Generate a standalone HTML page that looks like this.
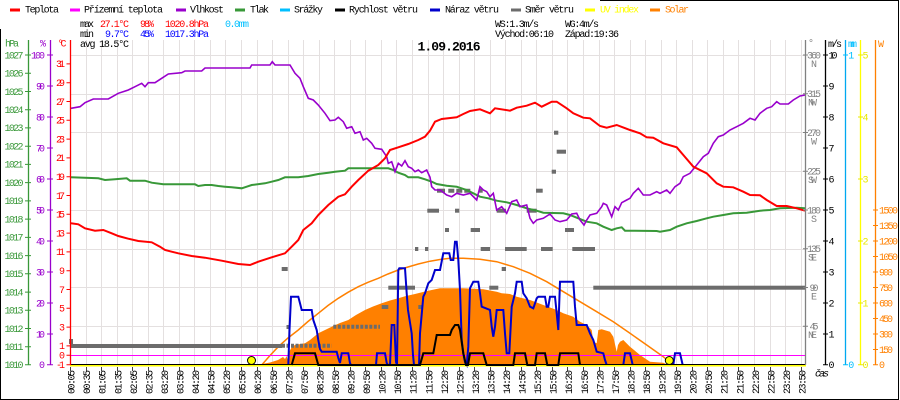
<!DOCTYPE html>
<html><head><meta charset="utf-8"><style>
html,body{margin:0;padding:0;background:#fff;}
svg{display:block;}
text{font-family:"Liberation Mono",monospace;font-size:10px;}
.b{font-weight:bold;font-size:13px;}
</style></head><body>
<svg width="900" height="400" viewBox="0 0 900 400" xmlns="http://www.w3.org/2000/svg">
<rect x="0" y="0" width="900" height="400" fill="#fff"/>
<!-- outer border -->
<path d="M0.5 29V399.5H898.5V0.5H600" fill="none" stroke="#000" stroke-width="1"/>

<!-- legend -->
<g>
<rect x="10" y="8.5" width="10" height="3" fill="#ff0000"/><text x="25" y="12.5" textLength="34">Teplota</text>
<rect x="70" y="8.5" width="10" height="3" fill="#ff00ff"/><text x="84" y="12.5" textLength="79">Přízemní teplota</text>
<rect x="176" y="8.5" width="10" height="3" fill="#9900cc"/><text x="190" y="12.5" textLength="34">Vlhkost</text>
<rect x="235" y="8.5" width="10" height="3" fill="#389838"/><text x="250" y="12.5" textLength="19">Tlak</text>
<rect x="280" y="8.5" width="10" height="3" fill="#00bfff"/><text x="294" y="12.5" textLength="29">Srážky</text>
<rect x="335" y="8.5" width="10" height="3" fill="#000"/><text x="349" y="12.5" textLength="69">Rychlost větru</text>
<rect x="430" y="8.5" width="10" height="3" fill="#0000cc"/><text x="445" y="12.5" textLength="54">Náraz větru</text>
<rect x="511" y="8.5" width="10" height="3" fill="#6c6c6c"/><text x="525" y="12.5" textLength="49">Směr větru</text>
<rect x="585" y="8.5" width="10" height="3" fill="#ffff00"/><text x="600" y="12.5" textLength="39" fill="#ffff00">UV index</text>
<rect x="650" y="8.5" width="10" height="3" fill="#ff8000"/><text x="665" y="12.5" textLength="24" fill="#ff8000">Solar</text>
</g>

<!-- stats -->
<text x="80" y="27" textLength="14">max</text>
<text x="100" y="27" textLength="29" fill="#ff0000">27.1°C</text>
<text x="140" y="27" textLength="14" fill="#ff0000">98%</text>
<text x="165" y="27" textLength="44" fill="#ff0000">1020.8hPa</text>
<text x="225" y="27" textLength="24" fill="#00bfff">0.0mm</text>
<text x="80" y="37" textLength="14">min</text>
<text x="105" y="37" textLength="24" fill="#0000ff">9.7°C</text>
<text x="140" y="37" textLength="14" fill="#0000ff">45%</text>
<text x="165" y="37" textLength="44" fill="#0000ff">1017.3hPa</text>
<text x="495" y="27" textLength="44">WS:1.3m/s</text>
<text x="565" y="27" textLength="34">WG:4m/s</text>
<text x="495" y="37" textLength="59">Východ:06:10</text>
<text x="565" y="37" textLength="54">Západ:19:36</text>

<!-- grid -->
<g stroke="#e4e0e0" stroke-width="1">
<path d="M71 55.5H805 M71 94.5H805 M71 132.5H805 M71 171.5H805 M71 210.5H805 M71 249.5H805 M71 287.5H805 M71 326.5H805"/>
<path d="M86.5 40V364 M101.5 40V364 M117.5 40V364 M132.5 40V364 M148.5 40V364 M163.5 40V364 M179.5 40V364 M194.5 40V364 M210.5 40V364 M225.5 40V364 M241.5 40V364 M257.5 40V364 M272.5 40V364 M288.5 40V364 M303.5 40V364 M319.5 40V364 M334.5 40V364 M350.5 40V364 M365.5 40V364 M381.5 40V364 M396.5 40V364 M412.5 40V364 M428.5 40V364 M443.5 40V364 M459.5 40V364 M474.5 40V364 M490.5 40V364 M505.5 40V364 M521.5 40V364 M536.5 40V364 M552.5 40V364 M567.5 40V364 M583.5 40V364 M599.5 40V364 M614.5 40V364 M630.5 40V364 M645.5 40V364 M661.5 40V364 M676.5 40V364 M692.5 40V364 M707.5 40V364 M723.5 40V364 M738.5 40V364 M754.5 40V364 M770.5 40V364 M785.5 40V364 M801.5 40V364"/>
</g>
<text x="80" y="47" textLength="49">avg 18.5°C</text>
<text class="b" x="417.5" y="50.5" textLength="63">1.09.2016</text>

<!-- solar fill -->
<polygon fill="#ff8000" points="257,365 262,364 270,362.5 278,360 283,357 285,359 286.7,356 288,362 289,352 292,346.7 295,345 305,343.3 310,340 318.3,333.3 325,330 331.7,326.7 340,323 348.3,320 356,315 365,310 373,306.5 381.7,303.3 390,300.5 398.3,298.3 406,296 415,294 423,292 431.7,290 440,288.3 463.3,288.3 483.3,289.3 496.7,291.7 501.7,293.3 510,294 516.7,296.7 530,300 543.3,305 556.7,310 563.3,313.3 573.3,316.7 580,321.7 586.7,325 591.7,330 593.3,341.7 596.7,343.3 598.3,330 601.7,329.3 610,331.7 613.3,336.7 616.7,351.7 618,345 620,341.7 623.3,340 630,346.7 640,355 650,361.7 663.3,362.7 668.3,365"/>
<!-- theoretical solar -->
<polyline fill="none" stroke="#ff8000" stroke-width="1.5" points="261.7,365 270,355.5 278.3,346.7 288,338 298.3,330 308,321.5 318.3,313.3 328,305.5 338.3,298.3 348,292.3 358.3,286.7 368,282.3 378.3,278.3 388,274 398.3,270 408,267 418.3,264 430,261.2 440,259.5 450,258.3 463.3,258.2 480,259.3 496.7,261.7 513.3,266.7 530,273.3 546.7,281.7 563.3,291.7 580,301.7 596.7,311.7 613.3,321.7 630,333.3 646.7,345 663.3,356.7 673.3,365"/>

<!-- wind direction -->
<g fill="#6c6c6c">
<rect x="69" y="339" width="4" height="5"/>
<rect x="71" y="344" width="211" height="4"/>
<rect x="286.5" y="325" width="3.5" height="4"/>
<rect x="281.7" y="267" width="6" height="4"/>
<rect x="381.7" y="305" width="6.6" height="4"/>
<rect x="388.3" y="285.7" width="26.7" height="4"/>
<rect x="415" y="247" width="3.3" height="4"/>
<rect x="425" y="247" width="3.3" height="4"/>
<rect x="418.3" y="305" width="4.7" height="4"/>
<rect x="427.3" y="208.7" width="11.7" height="4"/>
<rect x="437" y="188.7" width="8" height="4"/>
<rect x="479.3" y="188.7" width="3.4" height="4"/>
<rect x="455" y="208.7" width="4.3" height="4"/>
<rect x="445" y="228" width="4" height="4"/>
<rect x="470.7" y="228" width="9.3" height="4"/>
<rect x="480.7" y="247" width="9.3" height="4"/>
<rect x="496.7" y="208.7" width="9.3" height="4"/>
<rect x="501.7" y="267" width="4.3" height="4"/>
<rect x="489.3" y="285.7" width="9" height="4"/>
<rect x="505" y="247" width="21.7" height="4"/>
<rect x="526.7" y="208.7" width="10" height="4"/>
<rect x="536" y="188.7" width="6.7" height="4"/>
<rect x="541" y="247" width="11.7" height="4"/>
<rect x="551.7" y="169.7" width="4.3" height="4"/>
<rect x="554" y="130.7" width="4.3" height="4"/>
<rect x="556.7" y="149.7" width="9.3" height="4"/>
<rect x="565" y="228" width="9" height="4"/>
<rect x="572.3" y="247" width="22.7" height="4"/>
<rect x="593.3" y="285.7" width="212.7" height="4"/>
</g>
<g stroke="#6c6c6c" stroke-width="4" fill="none">
<path d="M282 345.7H331.7" stroke-dasharray="3,1.5"/>
<path d="M333.3 326.7H380" stroke-dasharray="3,1.5"/>
<path d="M448.3 190.7H471.7" stroke-dasharray="6,2"/>
</g>

<!-- ground temperature (0°C) -->
<path d="M71 355.5H806" stroke="#ff00ff" stroke-width="1"/>

<!-- pressure -->
<polyline fill="none" stroke="#389838" stroke-width="2" points="71,177.3 98.3,178.3 105,180 115,179.3 126.7,178.3 130,180.7 145,180.7 151.7,182.7 163.3,184.3 195,184.3 198.3,186 205,185 211.7,185 218.3,186 225,186.7 231.7,187.3 241.7,188.3 246.7,186.7 251.7,185 265,183.3 271.7,181.7 278.3,180 285,177.3 298.3,177.3 308.3,176 318.3,174 328.3,172.7 335,171.7 345,170.7 348.3,168.3 358.3,168.3 388.3,168.3 393.3,170 398.3,172.7 405,175 408.3,177.3 418.3,177.3 425,179.3 431.7,181.7 436.7,184 446.7,185.7 456.7,186.7 466.7,190 473.3,193.3 480,196.7 488.3,198.3 496.7,200.7 506.7,202.3 516.7,205 526.7,208.3 536.7,210.7 543.3,212.7 563.3,213.3 570,215 576.7,217.7 586.7,221.7 596.7,223.3 603.3,226.7 611.7,230 616.7,228.3 621.7,227.3 625,230.7 656.7,231 660,231.7 670,230 676.7,226.7 686.7,223.3 696.7,221 706.7,218.3 713.3,216.7 723.3,215 733.3,213.3 746.7,212.7 760,210.7 770,210 780,208.3 796.7,207.7 805,208.3"/>

<!-- humidity -->
<polyline fill="none" stroke="#9900cc" stroke-width="1.6" points="71,108.3 80,106.7 85,102.7 93.3,99 108.3,99 118.3,93.3 128.3,90 135,86.7 141.7,83.3 145,86.7 148.3,82.7 155,82.7 161.7,78.3 168.3,74 181.7,72.7 185,71 201.7,71 205,68 250,68 251.7,65 270,65 272.3,61.7 275,65 290,65 295,73.3 300,78.3 303.3,86.7 308.3,98.3 313.3,100 318.3,105 325,113.3 330,120.7 335,120 338.3,117.3 343.3,121.7 346.7,128.3 351.7,126.7 355,133.3 360,131.7 363.3,140 366.7,138.3 371.7,143.3 375,148.3 381.7,149.3 386.7,156.7 388.3,163.3 391.7,161.7 395,171.7 398.3,163.3 401.7,166 405,160.7 408.3,166.7 411.7,168.3 415,171.7 418.3,170 421.7,172.7 426.7,170 430,177.3 431.7,186.7 435,190 440,190 446.7,195 451.7,196.7 456.7,193.3 463.3,195 470,193.3 476.7,200 480,186.7 483.3,190 486.7,191.7 490,196.7 493.3,193.3 496.7,210 501.7,206.7 506.7,213.3 511.7,201.7 516.7,200 520,206.7 526.7,205 530,218.3 533.3,223.3 536.7,220 543.3,218.3 550,214 555,220 560,221.7 566.7,220 571.7,214 576.7,213.3 580,220 584,225 586.7,220 590,215 596.7,213.3 601.7,206.7 603.3,203.3 606.7,205 611.7,216.7 615,206.7 618.3,210 621.7,202.7 626.7,200 630,198.3 633.3,193.3 638.3,188.3 643.3,195 650,195 656.7,191.7 660,193.3 666.7,190 670,193.3 675,186.7 680,183.3 683.3,176.7 690,173.3 696.7,165 703.3,156.7 708.3,153.3 713.3,143.3 718.3,136.7 723.3,135 730,130 736.7,126.7 743.3,123.3 750,118.3 755,120 760,113.3 766.7,108.3 771.7,106.7 776.7,101.7 780,104 788.3,104 793.3,100 800,96 805,95"/>

<!-- temperature -->
<polyline fill="none" stroke="#ff0000" stroke-width="2" points="71,223.3 78.3,224.3 85,228.3 95,230.7 103.3,230 111.7,233.3 118.3,236 128.3,238.7 138.3,241 151.7,242.3 160,246.7 165,250 171.7,251.7 178.3,253.3 191.7,256 205,257.7 221.7,260.7 238.3,264 250,265 258.3,261.7 271.7,257.3 285,253.3 291.7,246.7 298.3,240 303.3,230 311.7,223.3 318.3,215 328.3,205 338.3,196.7 345,194.3 351.7,186.7 358.3,180 368.3,170.7 378.3,165 385,158.3 390,150 398.3,147.3 408.3,144 418.3,140 425,136.7 430,130.7 435,121.7 441.7,119 456.7,117.3 463.3,114 470,111 480,109.3 490,113.3 495,108.3 510,110.7 516.7,107.7 526.7,105.7 535,102.7 541.7,106.7 551.7,101.7 556.7,101.7 566.7,108.3 573.3,113.3 583.3,117.7 590,118.3 600,126 606.7,127.7 616.7,125 630,130 640,133.3 646.7,137.3 653.3,137.7 663.3,143.3 676.7,147.3 683.3,155 693.3,166.7 706.7,173.3 716.7,183.3 723.3,186.7 733.3,187.3 743.3,191.7 750,195 760,195.3 766.7,200 776.7,206 786.7,206 796.7,208.3 805,210.7"/>

<!-- wind gust -->
<polyline fill="none" stroke="#0000cc" stroke-width="2" points="288.3,365 289.5,330 291,296.7 298.3,296.7 300,303.3 301.7,310 311.7,310 313.3,320 316.7,330 318.3,340 320,349 321.7,351.7 336.7,351.7 338.3,358 340,363 341.7,353.3 348.3,353.3 350,363.3 351,365 376,365 377,353.3 385,353.3 386.7,363 388,365 390,365 391.7,325 394.3,325 396,362 397,365 398.3,270 399.3,268.3 405,268.3 406.7,293.3 408,310 411.7,333.3 413,355 414,365 419,365 420,333.3 423.3,296.7 425,293.3 428.3,283.3 431.7,280 435,270 440,270 443.3,253.3 449.3,253.3 450.7,260 453.3,260 455,241.7 456.7,241.7 458.3,260 460,290 461.7,340 463.3,353.3 465,362 466.7,365 468.3,346.7 470,288.3 473.3,281.7 478.3,281.7 480,293.3 481.7,306.7 490,310 491.7,326.7 493.3,336.7 495,326.7 496.7,310 503.3,310 505,333.3 506.7,353.3 509.3,353.3 511.7,306.7 515,293.3 516.7,281.7 521.7,281.7 523.3,293.3 526.7,298.3 530,306.7 533.3,308.3 536.7,298.3 538.3,296.7 545,296.7 546.7,306.7 548.3,306.7 550,296.7 555,296.7 556.7,313.3 558.3,330 560,281.7 573.3,281.7 575,306.7 576.7,325 586.7,325 590,333.3 593.3,340 596.7,351.7 603.3,353.3 605,360 606.7,365 623.3,365 625,353.3 630,353.3 632.7,365 673.3,365 675,353.3 680,353.3 682.7,365"/>

<!-- x axis line & UV -->
<path d="M70 365.5H806" stroke="#ffff00" stroke-width="2"/>
<path d="M70 364.5H806" stroke="#000" stroke-width="1"/>

<!-- wind speed -->
<polyline fill="none" stroke="#000" stroke-width="2" points="291.7,365 295,353.3 315,353.3 318.3,365 420,365 423.3,353.3 433.3,353.3 436.7,335 450,335 451.7,330 455,325 458.3,325 460,330 463.3,353.3 466,365 468,365 470,353.3 483.3,353.3 486.7,365 513.3,365 515,353.3 525,353.3 527.3,365 535,365 536.7,353.3 545,353.3 547.3,365 558.3,365 560,353.3 578.3,353.3 580,365"/>

<!-- sunrise/sunset -->
<circle cx="251.5" cy="360.5" r="4" fill="#ffff00" stroke="#000" stroke-width="1"/>
<circle cx="669.3" cy="360.5" r="4" fill="#ffff00" stroke="#000" stroke-width="1"/>

<!-- x ticks -->
<path stroke="#444" stroke-width="1" d="M70.5 367V371 M86.5 367V371 M101.5 367V371 M117.5 367V371 M132.5 367V371 M148.5 367V371 M163.5 367V371 M179.5 367V371 M194.5 367V371 M210.5 367V371 M225.5 367V371 M241.5 367V371 M257.5 367V371 M272.5 367V371 M288.5 367V371 M303.5 367V371 M319.5 367V371 M334.5 367V371 M350.5 367V371 M365.5 367V371 M381.5 367V371 M396.5 367V371 M412.5 367V371 M428.5 367V371 M443.5 367V371 M459.5 367V371 M474.5 367V371 M490.5 367V371 M505.5 367V371 M521.5 367V371 M536.5 367V371 M552.5 367V371 M567.5 367V371 M583.5 367V371 M599.5 367V371 M614.5 367V371 M630.5 367V371 M645.5 367V371 M661.5 367V371 M676.5 367V371 M692.5 367V371 M707.5 367V371 M723.5 367V371 M738.5 367V371 M754.5 367V371 M770.5 367V371 M785.5 367V371 M801.5 367V371"/>

<!-- x labels -->
<g>
<text transform="translate(74.6,394) rotate(-90)" textLength="24">00:05</text>
<text transform="translate(90.15,394) rotate(-90)" textLength="24">00:35</text>
<text transform="translate(105.7,394) rotate(-90)" textLength="24">01:05</text>
<text transform="translate(121.25,394) rotate(-90)" textLength="24">01:35</text>
<text transform="translate(136.8,394) rotate(-90)" textLength="24">02:05</text>
<text transform="translate(152.35,394) rotate(-90)" textLength="24">02:35</text>
<text transform="translate(167.9,394) rotate(-90)" textLength="24">03:20</text>
<text transform="translate(183.45,394) rotate(-90)" textLength="24">03:50</text>
<text transform="translate(199,394) rotate(-90)" textLength="24">04:20</text>
<text transform="translate(214.55,394) rotate(-90)" textLength="24">04:50</text>
<text transform="translate(230.1,394) rotate(-90)" textLength="24">05:20</text>
<text transform="translate(245.65,394) rotate(-90)" textLength="24">05:50</text>
<text transform="translate(261.2,394) rotate(-90)" textLength="24">06:20</text>
<text transform="translate(276.75,394) rotate(-90)" textLength="24">06:50</text>
<text transform="translate(292.3,394) rotate(-90)" textLength="24">07:20</text>
<text transform="translate(307.85,394) rotate(-90)" textLength="24">07:50</text>
<text transform="translate(323.4,394) rotate(-90)" textLength="24">08:20</text>
<text transform="translate(338.95,394) rotate(-90)" textLength="24">08:50</text>
<text transform="translate(354.5,394) rotate(-90)" textLength="24">09:20</text>
<text transform="translate(370.05,394) rotate(-90)" textLength="24">09:50</text>
<text transform="translate(385.6,394) rotate(-90)" textLength="24">10:20</text>
<text transform="translate(401.15,394) rotate(-90)" textLength="24">10:50</text>
<text transform="translate(416.7,394) rotate(-90)" textLength="24">11:20</text>
<text transform="translate(432.25,394) rotate(-90)" textLength="24">11:50</text>
<text transform="translate(447.8,394) rotate(-90)" textLength="24">12:20</text>
<text transform="translate(463.35,394) rotate(-90)" textLength="24">12:50</text>
<text transform="translate(478.9,394) rotate(-90)" textLength="24">13:20</text>
<text transform="translate(494.45,394) rotate(-90)" textLength="24">13:50</text>
<text transform="translate(510,394) rotate(-90)" textLength="24">14:20</text>
<text transform="translate(525.55,394) rotate(-90)" textLength="24">14:50</text>
<text transform="translate(541.1,394) rotate(-90)" textLength="24">15:20</text>
<text transform="translate(556.65,394) rotate(-90)" textLength="24">15:50</text>
<text transform="translate(572.2,394) rotate(-90)" textLength="24">16:20</text>
<text transform="translate(587.75,394) rotate(-90)" textLength="24">16:50</text>
<text transform="translate(603.3,394) rotate(-90)" textLength="24">17:20</text>
<text transform="translate(618.85,394) rotate(-90)" textLength="24">17:50</text>
<text transform="translate(634.4,394) rotate(-90)" textLength="24">18:20</text>
<text transform="translate(649.95,394) rotate(-90)" textLength="24">18:50</text>
<text transform="translate(665.5,394) rotate(-90)" textLength="24">19:20</text>
<text transform="translate(681.05,394) rotate(-90)" textLength="24">19:50</text>
<text transform="translate(696.6,394) rotate(-90)" textLength="24">20:20</text>
<text transform="translate(712.15,394) rotate(-90)" textLength="24">20:50</text>
<text transform="translate(727.7,394) rotate(-90)" textLength="24">21:20</text>
<text transform="translate(743.25,394) rotate(-90)" textLength="24">21:50</text>
<text transform="translate(758.8,394) rotate(-90)" textLength="24">22:20</text>
<text transform="translate(774.35,394) rotate(-90)" textLength="24">22:50</text>
<text transform="translate(789.9,394) rotate(-90)" textLength="24">23:20</text>
<text transform="translate(805.45,394) rotate(-90)" textLength="24">23:50</text>
</g>
<text x="815" y="376.5" font-style="italic" textLength="14">čas</text>

<!-- left axes -->
<path d="M28.5 40V365" stroke="#389838" stroke-width="1.3"/>
<path d="M50.5 40V365" stroke="#9900cc" stroke-width="1.3"/>
<path d="M70.5 40V365" stroke="#ff0000" stroke-width="1.3"/>
<text x="5" y="46.7" fill="#389838" textLength="14">hPa</text>
<text x="40" y="46.7" fill="#9900cc">%</text>
<text x="57.5" y="46.7" fill="#ff0000" textLength="9">°C</text>

<path stroke="#389838" stroke-width="1" d="M25 55h6M25 73.2h6M25 91.5h6M25 109.7h6M25 127.9h6M25 146.2h6M25 164.4h6M25 182.6h6M25 200.9h6M25 219.1h6M25 237.4h6M25 255.6h6M25 273.8h6M25 292.1h6M25 310.3h6M25 328.5h6M25 346.8h6M25 364.7h6"/>
<g fill="#389838" text-anchor="end">
<text x="23.5" y="58.3" textLength="19">1027</text>
<text x="23.5" y="76.5" textLength="19">1026</text>
<text x="23.5" y="94.8" textLength="19">1025</text>
<text x="23.5" y="113" textLength="19">1024</text>
<text x="23.5" y="131.2" textLength="19">1023</text>
<text x="23.5" y="149.5" textLength="19">1022</text>
<text x="23.5" y="167.7" textLength="19">1021</text>
<text x="23.5" y="185.9" textLength="19">1020</text>
<text x="23.5" y="204.2" textLength="19">1019</text>
<text x="23.5" y="222.4" textLength="19">1018</text>
<text x="23.5" y="240.7" textLength="19">1017</text>
<text x="23.5" y="258.9" textLength="19">1016</text>
<text x="23.5" y="277.1" textLength="19">1015</text>
<text x="23.5" y="295.4" textLength="19">1014</text>
<text x="23.5" y="313.6" textLength="19">1013</text>
<text x="23.5" y="331.8" textLength="19">1012</text>
<text x="23.5" y="350.1" textLength="19">1011</text>
<text x="23.5" y="368" textLength="19">1010</text>
</g>

<path stroke="#9900cc" stroke-width="1" d="M47 55h6M47 86h6M47 117h6M47 148h6M47 179h6M47 210h6M47 241h6M47 272h6M47 303h6M47 334h6M47 364.7h6"/>
<g fill="#9900cc" text-anchor="end">
<text x="45" y="58.3" textLength="14">100</text>
<text x="45" y="89.3" textLength="9">90</text>
<text x="45" y="120.3" textLength="9">80</text>
<text x="45" y="151.3" textLength="9">70</text>
<text x="45" y="182.3" textLength="9">60</text>
<text x="45" y="213.3" textLength="9">50</text>
<text x="45" y="244.3" textLength="9">40</text>
<text x="45" y="275.3" textLength="9">30</text>
<text x="45" y="306.3" textLength="9">20</text>
<text x="45" y="337.3" textLength="9">10</text>
<text x="45" y="368">0</text>
</g>

<path stroke="#ff0000" stroke-width="1" d="M66.5 63.9h4M66.5 82.7h4M66.5 101.5h4M66.5 120.3h4M66.5 139.1h4M66.5 157.9h4M66.5 176.7h4M66.5 195.5h4M66.5 214.3h4M66.5 233.1h4M66.5 251.9h4M66.5 270.7h4M66.5 289.5h4M66.5 308.3h4M66.5 327.1h4M66.5 345.9h4M66.5 355.3h4M66.5 364.7h4"/>
<g fill="#ff0000" text-anchor="end">
<text x="65" y="67.2" textLength="9">31</text>
<text x="65" y="86" textLength="9">29</text>
<text x="65" y="104.8" textLength="9">27</text>
<text x="65" y="123.6" textLength="9">25</text>
<text x="65" y="142.4" textLength="9">23</text>
<text x="65" y="161.2" textLength="9">21</text>
<text x="65" y="180" textLength="9">19</text>
<text x="65" y="198.8" textLength="9">17</text>
<text x="65" y="217.6" textLength="9">15</text>
<text x="65" y="236.4" textLength="9">13</text>
<text x="65" y="255.2" textLength="9">11</text>
<text x="65" y="274">9</text>
<text x="65" y="292.8">7</text>
<text x="65" y="311.6">5</text>
<text x="65" y="330.4">3</text>
<text x="65" y="349.2">1</text>
<text x="65" y="358.6">0</text>
<text x="65" y="368" textLength="9">-1</text>
</g>

<!-- right axes -->
<path d="M805.5 40V365" stroke="#808080" stroke-width="1.3"/>
<path d="M825.5 40V365" stroke="#000" stroke-width="1.3"/>
<path d="M845.5 40V365" stroke="#00a8f0" stroke-width="1.3"/>
<path d="M860.5 40V365" stroke="#ffff00" stroke-width="1.3"/>
<path d="M875.5 40V365" stroke="#ff8000" stroke-width="1.3"/>
<text x="808" y="46" fill="#808080">°</text>
<text x="828" y="47" textLength="14">m/s</text>
<text x="848" y="47" fill="#00bfff" textLength="9">mm</text>
<text x="878" y="47" fill="#ff8000">W</text>

<path stroke="#808080" stroke-width="1" d="M803 55h5M803 93.75h5M803 132.5h5M803 171.25h5M803 210h5M803 248.75h5M803 287.5h5M803 326.25h5"/>
<g fill="#808080" text-anchor="middle">
<text x="814" y="58.3" textLength="14">360</text><text x="814" y="66.8">N</text>
<text x="814" y="97" textLength="14">315</text><text x="812.5" y="105.5" textLength="9">NW</text>
<text x="814" y="135.8" textLength="14">270</text><text x="814" y="144.3">W</text>
<text x="814" y="174.5" textLength="14">225</text><text x="812.5" y="183" textLength="9">SW</text>
<text x="814" y="213.3" textLength="14">180</text><text x="814" y="221.8">S</text>
<text x="814" y="252" textLength="14">135</text><text x="812.5" y="260.5" textLength="9">SE</text>
<text x="814" y="290.8" textLength="9">90</text><text x="814" y="299.3">E</text>
<text x="814" y="329.5" textLength="9">45</text><text x="812.5" y="338" textLength="9">NE</text>
</g>

<path stroke="#000" stroke-width="1" d="M823 55h5M823 86h5M823 117h5M823 148h5M823 179h5M823 210h5M823 241h5M823 272h5M823 303h5M823 334h5M823 364.7h5"/>
<g fill="#000">
<text x="828.5" y="58.3" textLength="9">10</text>
<text x="828.5" y="89.3">9</text>
<text x="828.5" y="120.3">8</text>
<text x="828.5" y="151.3">7</text>
<text x="828.5" y="182.3">6</text>
<text x="828.5" y="213.3">5</text>
<text x="828.5" y="244.3">4</text>
<text x="828.5" y="275.3">3</text>
<text x="828.5" y="306.3">2</text>
<text x="828.5" y="337.3">1</text>
<text x="828.5" y="368">0</text>
</g>

<path stroke="#00bfff" stroke-width="1" d="M843 55h5M843 364.7h5"/>
<text x="848.3" y="58.3" fill="#00bfff">1</text>
<text x="848.3" y="368" fill="#00bfff">0</text>

<path stroke="#e8e800" stroke-width="1" d="M858 55h5M858 117h5M858 179h5M858 241h5M858 303h5M858 364.7h5"/>
<g fill="#e8e800">
<text x="862.5" y="58.3">5</text>
<text x="862.5" y="120.3">4</text>
<text x="862.5" y="182.3">3</text>
<text x="862.5" y="244.3">2</text>
<text x="862.5" y="306.3">1</text>
<text x="862.5" y="368">0</text>
</g>

<path stroke="#ff8000" stroke-width="1" d="M873 210h5M873 225.5h5M873 241h5M873 256.5h5M873 272h5M873 287.5h5M873 303h5M873 318.5h5M873 334h5M873 349.5h5M873 364.7h5"/>
<g fill="#ff8000">
<text x="879" y="213.3" textLength="19">1500</text>
<text x="879" y="228.8" textLength="19">1350</text>
<text x="879" y="244.3" textLength="19">1200</text>
<text x="879" y="259.8" textLength="19">1050</text>
<text x="879" y="275.3" textLength="14">900</text>
<text x="879" y="290.8" textLength="14">750</text>
<text x="879" y="306.3" textLength="14">600</text>
<text x="879" y="321.8" textLength="14">450</text>
<text x="879" y="337.3" textLength="14">300</text>
<text x="879" y="352.8" textLength="14">150</text>
<text x="879" y="368">0</text>
</g>
</svg>
</body></html>
